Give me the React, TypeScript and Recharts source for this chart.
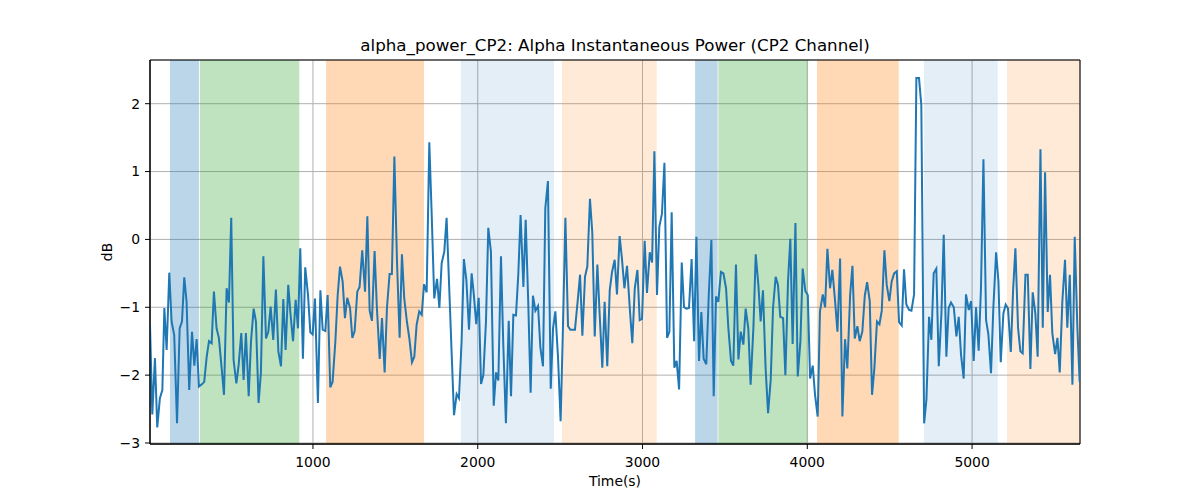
import React from 'react';
import {
  LineChart,
  Line,
  XAxis,
  YAxis,
  CartesianGrid,
  ReferenceArea,
} from 'recharts';

// time (s) of each sample
const times = [
  11, 25, 41, 55, 71, 86, 98, 112, 128, 142, 158, 175, 191, 205, 219, 233, 249, 266, 280, 294,
  308, 324, 340, 355, 369, 385, 399, 415, 429, 446, 460, 476, 490, 504, 518, 535, 549, 565, 579, 593,
  610, 624, 640, 654, 670, 684, 699, 715, 729, 743, 759, 775, 790, 806, 820, 834, 850, 864, 879, 895,
  909, 923, 939, 953, 970, 984, 998, 1012,
  1030, 1045, 1059, 1075, 1089, 1105, 1119, 1136, 1150, 1164, 1180, 1194, 1208, 1225, 1239, 1253, 1269, 1283, 1299, 1316,
  1330, 1344, 1358, 1374, 1388, 1405, 1419, 1435, 1449, 1465, 1479, 1494, 1510, 1526, 1540, 1554, 1570, 1585, 1601, 1615,
  1629, 1645, 1660, 1674, 1690, 1706, 1720, 1736, 1753, 1767, 1781, 1797, 1811, 1827, 1842, 1856, 1872, 1886, 1902, 1916,
  1931, 1947, 1963,
  1975, 1991, 2006, 2020, 2034, 2050, 2064, 2080, 2097, 2111, 2125, 2141, 2155, 2171, 2188, 2202, 2216, 2232, 2246, 2260,
  2277, 2291, 2307, 2321, 2335, 2350, 2366, 2380, 2396, 2410, 2426, 2443, 2457, 2471, 2487, 2503, 2517, 2532, 2548, 2562,
  2576, 2590, 2606, 2621, 2635, 2651, 2665, 2681, 2695, 2710, 2726, 2740, 2756, 2770, 2786, 2801, 2815, 2831, 2845, 2861,
  2875, 2890, 2906,
  2924, 2938, 2953, 2969, 2983, 2997, 3013, 3027, 3044, 3058, 3072, 3088, 3102, 3118, 3133, 3149, 3163, 3177, 3193, 3207,
  3222, 3238, 3252, 3266, 3282, 3298, 3313, 3327, 3343, 3357, 3371, 3387, 3402, 3418, 3432, 3446, 3460, 3476, 3491, 3507,
  3521, 3537, 3551, 3567, 3582, 3596, 3612, 3626, 3642, 3656, 3673, 3687, 3703, 3717, 3731, 3747, 3762, 3778, 3792, 3808,
  3822, 3836, 3853, 3867, 3883, 3897, 3911,
  3928, 3942, 3958, 3972, 3988, 4003, 4017, 4033, 4047, 4063, 4077, 4094, 4108, 4122, 4138, 4152, 4168, 4183, 4199, 4213,
  4229, 4243, 4260, 4274, 4288, 4304, 4318, 4334, 4349, 4363, 4379, 4393, 4407, 4423, 4438, 4452, 4468, 4482, 4498, 4512,
  4527, 4543, 4557, 4573, 4587, 4601, 4618, 4632, 4648, 4662, 4678, 4692, 4709, 4723, 4739, 4753, 4767, 4783, 4798, 4814,
  4828, 4844, 4858, 4872,
  4889, 4905, 4919, 4933, 4949, 4963, 4980, 4994, 5010, 5024, 5040, 5054, 5069, 5085, 5099, 5115, 5129, 5146, 5160, 5174,
  5190, 5204, 5218, 5235, 5249, 5263, 5279, 5293, 5307, 5324, 5338, 5354, 5368, 5384, 5398, 5415, 5429, 5443, 5459, 5473,
  5487, 5504, 5518, 5532, 5548, 5564, 5578, 5593, 5609, 5623, 5639, 5653,
];

// alpha power in dB
const power = [
  -1.26, -2.58, -1.75, -2.77, -2.34, -2.22, -1.01, -1.63, -0.49, -1.21, -1.41, -2.71, -1.31, -1.21, -0.56, -0.92, -2.22, -1.36, -1.86, -1.47,
  -2.17, -2.14, -2.1, -1.73, -1.5, -1.53, -0.77, -1.31, -1.45, -1.9, -2.29, -0.72, -0.93, 0.32, -1.77, -2.12, -1.85, -1.38, -2.07, -1.38,
  -2.31, -1.5, -1.02, -1.21, -2.41, -1.97, -0.25, -1.46, -1.36, -0.99, -1.48, -0.74, -1.65, -1.87, -0.88, -1.63, -0.67, -1.11, -1.5, -0.89,
  -1.31, -0.13, -1.76, -0.41, -0.82, -1.37, -1.4, -0.87,
  -2.41, -0.75, -1.33, -1.35, -0.82, -2.18, -2.1, -1.5, -0.82, -0.4, -0.62, -1.16, -0.86, -1.01, -1.45, -1.35, -0.77, -0.7, -0.16, -0.77,
  0.34, -1.05, -1.2, -0.17, -1.01, -1.76, -1.16, -1.96, -1.01, -0.51, -0.51, 1.22, -0.33, -1.45, -0.22, -0.87, -1.21, -1.46, -1.81, -1.73,
  -1.26, -1.06, -1.11, -0.66, -0.78, 1.43, 0.41, -0.87, -0.58, -1.01, -0.35, -0.18, 0.32, -0.72, -1.7, -2.59, -2.28, -2.34, -1.5, -0.29,
  -0.6, -1.33, -0.5,
  -0.78, -1.25, -0.86, -2.13, -2.0, -1.21, 0.17, -0.18, -2.45, -1.96, -2.08, -0.25, -1.55, -2.71, -1.2, -2.31, -1.11, -1.12, -0.52, 0.36,
  -0.7, 0.29, -0.97, -2.26, -0.83, -1.05, -0.98, -1.59, -1.87, 0.46, 0.86, -2.2, -1.31, -1.06, -1.73, -2.68, -1.31, 0.32, -1.28, -1.33,
  -1.33, -1.33, -0.92, -0.52, -1.42, -0.55, -0.4, 0.6, 0.11, -1.43, -0.37, -1.11, -1.89, -0.92, -1.87, -0.75, -0.48, -0.3, -0.81, 0.05,
  -0.28, -0.72, -0.39,
  -1.06, -1.53, -0.72, -0.45, -1.19, -1.17, -0.02, -0.79, -0.19, -0.34, 1.3, -0.82, 0.19, 0.38, 1.13, -1.45, -1.36, 0.4, -1.89, -1.79,
  -2.21, -0.34, -1.0, -1.02, -1.01, -0.29, -1.5, 0.04, -1.79, -1.07, -1.76, -1.84, -0.82, -0.01, -2.31, -0.84, -0.92, -0.48, -0.5, -0.72,
  -1.31, -1.79, -1.86, -0.37, -1.77, -1.36, -1.55, -1.02, -1.31, -2.14, -1.3, -0.22, -0.67, -1.21, -0.75, -1.9, -2.56, -2.07, -1.01, -0.55,
  -0.67, -1.14, -1.16, -2.0, -0.62, 0.01, -1.54,
  0.24, -2.02, -1.51, -0.43, -0.76, -0.82, -2.05, -1.86, -2.29, -2.61, -1.06, -0.81, -1.0, -0.14, -0.72, -0.45, -0.89, -1.36, -0.28, -2.61,
  -1.47, -1.9, -0.82, -0.39, -1.46, -1.28, -1.5, -1.36, -0.83, -0.63, -0.91, -2.29, -1.9, -1.21, -1.25, -1.05, -0.16, -0.67, -0.91, -0.62,
  -0.5, -0.47, -1.22, -1.27, -0.44, -0.96, -1.04, -1.05, -0.81, 2.38, 2.38, 1.98, -2.71, -2.36, -1.14, -1.48, -0.5, -0.43, -1.87, -1.09,
  0.07, -1.73, -1.01, -0.93,
  -1.0, -1.43, -1.14, -1.7, -2.05, -0.81, -1.04, -0.91, -1.79, -1.0, -1.64, -0.72, 1.18, -1.19, -1.4, -1.97, -1.01, -0.19, -0.62, -1.81,
  -1.09, -0.96, -1.02, -1.66, -0.75, -0.13, -1.3, -1.65, -1.68, -0.52, -0.52, -1.91, -0.78, -1.09, -1.73, 1.33, -1.3, 0.99, -1.07, -0.52,
  -1.38, -1.69, -1.45, -1.96, -0.91, -0.3, -1.3, -0.52, -2.14, 0.04, -1.3, -2.1,
];

// shaded epochs
const spanStart = [132, 314, 1079, 1898, 2511, 3319, 3460, 4059, 4708, 5212];
const spanEnd = [308, 917, 1674, 2463, 3086, 3456, 4001, 4555, 5156, 5655];
const spanKind = ['blue', 'green', 'orange', 'paleBlue', 'paleOrange', 'blue', 'green', 'orange', 'paleBlue', 'paleOrange'];

const xTicks = [1000, 2000, 3000, 4000, 5000];
const yTicks = [-3, -2, -1, 0, 1, 2];

const X_DOMAIN: [number, number] = [11, 5655];
const Y_DOMAIN: [number, number] = [-3.015, 2.644];

const spanStyle: Record<string, { fill: string; opacity: number }> = {
  blue: { fill: '#1f77b4', opacity: 0.3 },
  green: { fill: '#2ca02c', opacity: 0.3 },
  orange: { fill: '#ff7f0e', opacity: 0.3 },
  paleBlue: { fill: '#1f77b4', opacity: 0.12 },
  paleOrange: { fill: '#ff7f0e', opacity: 0.16 },
};

const FONT = '"DejaVu Sans", sans-serif';
const minus = (v: number) => (v < 0 ? '\u2212' + Math.abs(v) : String(v));

const App: React.FC = () => {
  const data = times.map((t, i) => ({ t, power: power[i] }));
  const tickStyle = { fontSize: 13.9, fill: '#000', fontFamily: FONT };

  return (
    <div style={{ position: 'relative', width: 1200, height: 500, background: '#fff' }}>
      <style>{'body{margin:0}'}</style>
      <LineChart
        width={1200}
        height={500}
        data={data}
        margin={{ top: 60, right: 120, left: 100, bottom: 26 }}
      >
        {spanStart.map((s, i) => (
          <ReferenceArea
            key={i}
            x1={s}
            x2={spanEnd[i]}
            fill={spanStyle[spanKind[i]].fill}
            fillOpacity={spanStyle[spanKind[i]].opacity}
            stroke='none'
            ifOverflow='hidden'
          />
        ))}
        <CartesianGrid stroke='#b0b0b0' strokeWidth={1} />
        <XAxis
          dataKey='t'
          type='number'
          domain={X_DOMAIN}
          ticks={xTicks}
          allowDataOverflow
          height={30}
          tickSize={5}
          tickMargin={8}
          tick={tickStyle}
          axisLine={{ stroke: '#000' }}
          tickLine={{ stroke: '#000' }}
        />
        <YAxis
          type='number'
          domain={Y_DOMAIN}
          ticks={yTicks}
          allowDataOverflow
          width={50}
          tickSize={5}
          tickMargin={5}
          tick={tickStyle}
          tickFormatter={minus}
          axisLine={{ stroke: '#000' }}
          tickLine={{ stroke: '#000' }}
        />
        <Line
          type='linear'
          dataKey='power'
          stroke='#1f77b4'
          strokeWidth={2}
          dot={false}
          isAnimationActive={false}
        />
        {/* axes frame */}
        <ReferenceArea
          x1={X_DOMAIN[0]}
          x2={X_DOMAIN[1]}
          y1={Y_DOMAIN[0]}
          y2={Y_DOMAIN[1]}
          fill='none'
          stroke='#000'
          strokeWidth={1}
          ifOverflow='visible'
        />
      </LineChart>
      <svg
        width={1200}
        height={500}
        style={{ position: 'absolute', left: 0, top: 0, pointerEvents: 'none' }}
        fontFamily={FONT}
      >
        <text x={615} y={51} textAnchor='middle' fontSize={16.7} fill='#000'>
          alpha_power_CP2: Alpha Instantaneous Power (CP2 Channel)
        </text>
        <text x={615} y={486} textAnchor='middle' fontSize={13.9} fill='#000'>
          Time(s)
        </text>
        <text
          x={112}
          y={252}
          textAnchor='middle'
          fontSize={13.9}
          fill='#000'
          transform='rotate(-90 112 252)'
        >
          dB
        </text>
      </svg>
    </div>
  );
};

export default App;
